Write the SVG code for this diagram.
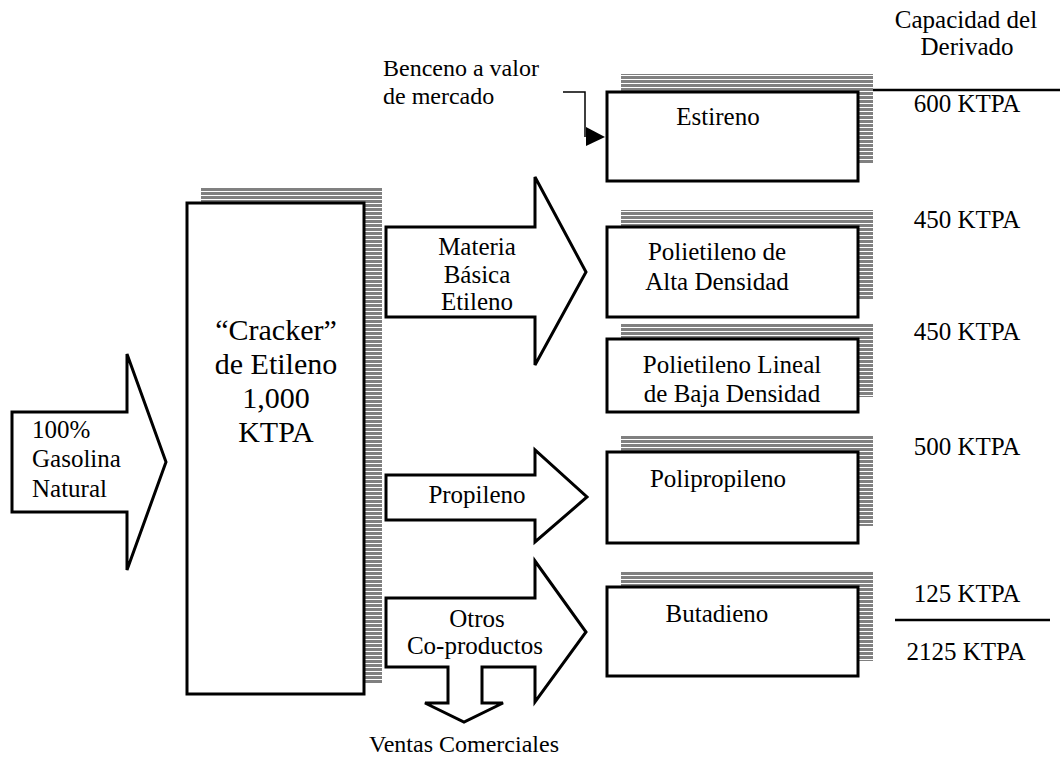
<svg xmlns="http://www.w3.org/2000/svg" width="1060" height="759" viewBox="0 0 1060 759" font-family="'Liberation Serif', 'DejaVu Serif', serif">
<defs>
<pattern id="hatch" width="4" height="4" patternUnits="userSpaceOnUse"><rect x="0" y="0" width="4" height="3" fill="#808080"/></pattern>
</defs>
<style>
text{font-family:'Liberation Serif','DejaVu Serif',serif;font-size:25px;fill:#000}
.c{text-anchor:middle}
.big{font-size:30px}
.sm{font-size:24px}
.shadow{fill:url(#hatch)}
.box{fill:#fff;stroke:#000;stroke-width:3}
.arrow{fill:#fff;stroke:#000;stroke-width:3;stroke-linejoin:miter}
.rule{stroke:#000;stroke-width:2.5}
</style>
<rect width="1060" height="759" fill="#fff"/>

<g id="gasolina">
<polygon class="arrow" points="12,412 127,412 127,354 166,462 127,570 127,512 12,512"/>
<text x="32" y="438">100%</text>
<text x="32" y="467">Gasolina</text>
<text x="32" y="497">Natural</text>
</g>

<g id="cracker">
<rect class="shadow" x="201" y="188" width="181" height="496"/>
<rect class="box" x="187" y="203" width="177" height="491"/>
<text class="c big" x="276" y="340">“Cracker”</text>
<text class="c big" x="276" y="374">de Etileno</text>
<text class="c big" x="276" y="408">1,000</text>
<text class="c big" x="276" y="442">KTPA</text>
</g>

<g id="materia">
<polygon class="arrow" points="386,227 535,227 535,177 586,272 535,365 535,317 386,317"/>
<text class="c" x="477" y="255">Materia</text>
<text class="c" x="477" y="283">Básica</text>
<text class="c" x="477" y="310">Etileno</text>
</g>

<g id="propileno">
<polygon class="arrow" points="386,475 535,475 535,450 587,497 535,542 535,520 386,520"/>
<text class="c" x="477" y="503">Propileno</text>
</g>

<g id="otros">
<polygon class="arrow" points="386,598 535,598 535,561 586,632 535,702 535,667 386,667"/>
<text class="c" x="477" y="627">Otros</text>
<text class="c" x="475" y="654">Co-productos</text>
</g>

<g id="ventas">
<rect x="449.5" y="664" width="31" height="8" fill="#fff"/>
<polygon points="448,666 482,666 482,703 503,703 464,722 425,703 448,703" fill="#fff"/>
<polyline class="arrow" points="448,666 448,703 425,703 464,722 503,703 482,703 482,666"/>
<text class="c sm" x="464" y="752">Ventas Comerciales</text>
</g>

<g id="benceno">
<text class="sm" x="383" y="76">Benceno a valor</text>
<text class="sm" x="383" y="104">de mercado</text>
</g>

<g id="estireno">
<rect class="shadow" x="621" y="74" width="252" height="89"/>
<rect class="box" x="607" y="92" width="251" height="89"/>
<text class="c" x="718" y="125">Estireno</text>
</g>

<g id="pead">
<rect class="shadow" x="621" y="210" width="252" height="90"/>
<rect class="box" x="607" y="227" width="251" height="90"/>
<text class="c" x="717" y="260">Polietileno de</text>
<text class="c" x="717" y="290">Alta Densidad</text>
</g>

<g id="pelbd">
<rect class="shadow" x="621" y="324" width="252" height="73"/>
<rect class="box" x="607" y="339" width="251" height="73"/>
<text class="c" x="732" y="373">Polietileno Lineal</text>
<text class="c" x="732" y="402">de Baja Densidad</text>
</g>

<g id="polipropileno">
<rect class="shadow" x="621" y="435" width="252" height="91"/>
<rect class="box" x="607" y="452" width="251" height="91"/>
<text class="c" x="718" y="487">Polipropileno</text>
</g>

<g id="butadieno">
<rect class="shadow" x="621" y="572" width="252" height="89"/>
<rect class="box" x="607" y="587" width="251" height="89"/>
<text class="c" x="717" y="622">Butadieno</text>
</g>

<g id="capacidad">
<text class="c" x="966" y="28">Capacidad del</text>
<text class="c" x="967" y="55">Derivado</text>
<line class="rule" x1="873" y1="90" x2="1060" y2="90"/>
<text class="c" x="967" y="112">600 KTPA</text>
<text class="c" x="967" y="228">450 KTPA</text>
<text class="c" x="967" y="340">450 KTPA</text>
<text class="c" x="967" y="455">500 KTPA</text>
<text class="c" x="967" y="602">125 KTPA</text>
<line class="rule" x1="895" y1="620" x2="1050" y2="620" stroke-width="2"/>
<text class="c" x="966" y="660">2125 KTPA</text>
</g>

<g id="connectors">
<polyline points="563,92 585,92 585,137" fill="none" stroke="#000" stroke-width="1.5"/>
<polygon points="586,127 605,137 586,146" fill="#000"/>
</g>
</svg>
